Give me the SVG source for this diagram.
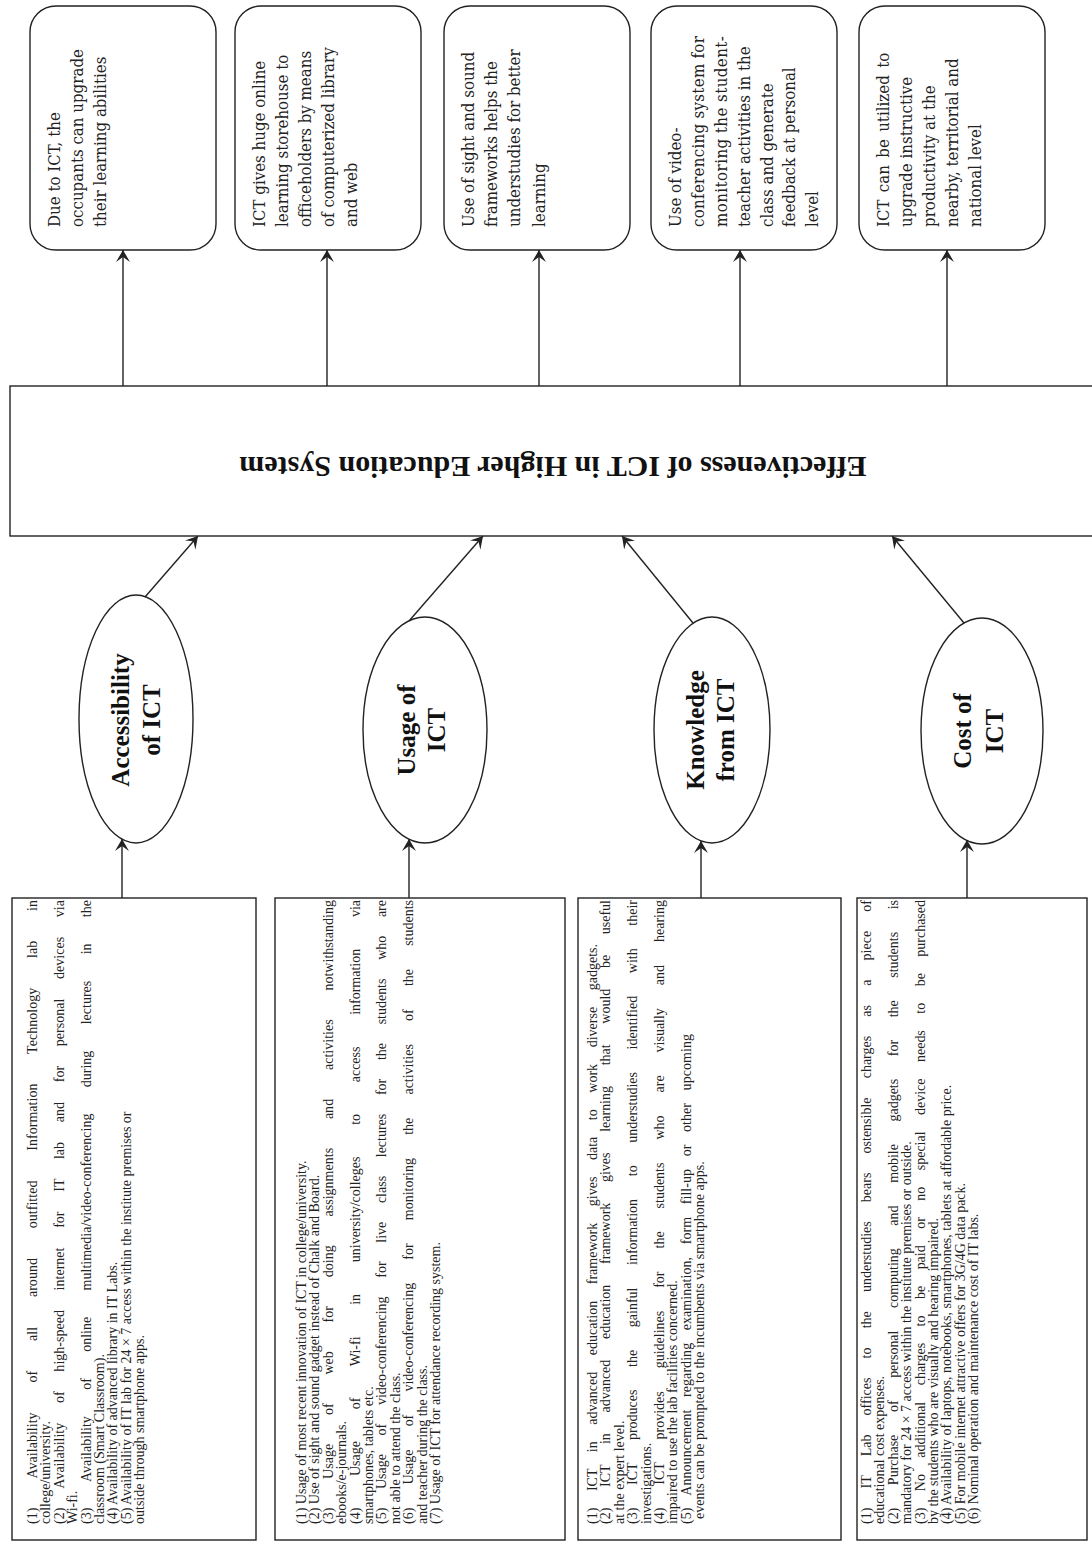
<svg xmlns="http://www.w3.org/2000/svg" width="1092" height="1546" viewBox="0 0 1092 1546">
<style>
.box{fill:#fff;stroke:#222;stroke-width:1.4}
.conn{stroke:#222;stroke-width:1.4;fill:none;marker-end:url(#arr)}
.bt{font-family:"Liberation Serif","Times New Roman",serif;font-size:14px;fill:#222}
.tt{font-family:"DejaVu Serif",serif;font-size:17.5px;fill:#222}
.el{font-family:"Liberation Serif","Times New Roman",serif;font-size:25px;font-weight:bold;fill:#111}
.ct{font-family:"Liberation Serif","Times New Roman",serif;font-size:30px;font-weight:bold;fill:#111}
</style>
<defs>
<marker id="arr" viewBox="0 0 12 14" refX="12" refY="7" markerWidth="12" markerHeight="14" markerUnits="userSpaceOnUse" orient="auto">
<path d="M0,0 L12,7 L0,14 L5,7 z" fill="#222"/>
</marker>
</defs>
<rect width="1092" height="1546" fill="#fff"/>

<!-- top outcome boxes -->
<g id="t1">
<rect class="box" x="30" y="6" width="186" height="244" rx="26"/>
<g class="tt" transform="translate(30,227) rotate(-90) scale(0.86,1)">
<text x="0" y="30.5">Due to ICT, the</text>
<text x="0" y="53.3">occupants can upgrade</text>
<text x="0" y="76.1">their learning abilities</text>
</g>
</g>
<g id="t2">
<rect class="box" x="235" y="6" width="186" height="244" rx="26"/>
<g class="tt" transform="translate(235,227) rotate(-90) scale(0.86,1)">
<text x="0" y="30.5">ICT gives huge online</text>
<text x="0" y="53.3">learning storehouse to</text>
<text x="0" y="76.1">officeholders by means</text>
<text x="0" y="98.9">of computerized library</text>
<text x="0" y="121.7">and web</text>
</g>
</g>
<g id="t3">
<rect class="box" x="444" y="6" width="186" height="244" rx="26"/>
<g class="tt" transform="translate(444,227) rotate(-90) scale(0.86,1)">
<text x="0" y="30.5">Use of sight and sound</text>
<text x="0" y="53.3">frameworks helps the</text>
<text x="0" y="76.1">understudies for better</text>
<text x="0" y="101">learning</text>
</g>
</g>
<g id="t4">
<rect class="box" x="651" y="6" width="186" height="244" rx="26"/>
<g class="tt" transform="translate(651,227) rotate(-90) scale(0.86,1)">
<text x="0" y="30.5">Use of video-</text>
<text x="0" y="53.3" textLength="222" lengthAdjust="spacing">conferencing system for</text>
<text x="0" y="76.1" textLength="222" lengthAdjust="spacing">monitoring the student-</text>
<text x="0" y="98.9">teacher activities in the</text>
<text x="0" y="121.7">class and generate</text>
<text x="0" y="144.5">feedback at personal</text>
<text x="0" y="167.3">level</text>
</g>
</g>
<g id="t5">
<rect class="box" x="859" y="6" width="186" height="244" rx="26"/>
<g class="tt" transform="translate(859,227) rotate(-90) scale(0.86,1)">
<text x="0" y="30.5" word-spacing="3">ICT can be utilized to</text>
<text x="0" y="53.3">upgrade instructive</text>
<text x="0" y="76.1">productivity at the</text>
<text x="0" y="98.9">nearby, territorial and</text>
<text x="0" y="121.7">national level</text>
</g>
</g>

<!-- central box -->
<g id="center">
<rect class="box" x="10" y="386" width="1100" height="150"/>
<text class="ct" transform="translate(553,467) rotate(180)" text-anchor="middle" dominant-baseline="central">Effectiveness of ICT in Higher Education System</text>
</g>

<!-- ellipses -->
<g id="e1">
<ellipse class="box" cx="136" cy="719" rx="57" ry="124"/>
<text class="el" transform="translate(136,720) rotate(-90)" text-anchor="middle" dominant-baseline="central"><tspan x="0" y="-16">Accessibility</tspan><tspan x="0" y="15">of ICT</tspan></text>
</g>
<g id="e2">
<ellipse class="box" cx="425" cy="730" rx="62" ry="113"/>
<text class="el" transform="translate(421,730) rotate(-90)" text-anchor="middle" dominant-baseline="central"><tspan x="0" y="-15">Usage of</tspan><tspan x="0" y="15">ICT</tspan></text>
</g>
<g id="e3">
<ellipse class="box" cx="712" cy="730" rx="58" ry="113"/>
<text class="el" transform="translate(710,730) rotate(-90)" text-anchor="middle" dominant-baseline="central"><tspan x="0" y="-15">Knowledge</tspan><tspan x="0" y="15">from ICT</tspan></text>
</g>
<g id="e4">
<ellipse class="box" cx="982" cy="731" rx="61" ry="113"/>
<text class="el" transform="translate(978,731) rotate(-90)" text-anchor="middle" dominant-baseline="central"><tspan x="0" y="-16">Cost of</tspan><tspan x="0" y="16">ICT</tspan></text>
</g>

<!-- bottom detail boxes -->
<g id="b1">
<rect class="box" x="12" y="898" width="244" height="642"/>
<g class="bt" transform="translate(12,1524) rotate(-90)">
<text x="0" y="25" word-spacing="26.3" textLength="624" lengthAdjust="spacing">(1) Availability of all around outfitted Information Technology lab in</text>
<text x="0" y="38.4">college/university.</text>
<text x="0" y="51.8" word-spacing="16.2" textLength="624" lengthAdjust="spacing">(2) Availability of high-speed internet for IT lab and for personal devices via</text>
<text x="0" y="65.2">Wi-fi.</text>
<text x="0" y="78.6" word-spacing="22.8" textLength="624" lengthAdjust="spacing">(3) Availability of online multimedia/video-conferencing during lectures in the</text>
<text x="0" y="92">classroom (Smart Classroom).</text>
<text x="0" y="105.4">(4) Availability of advanced library in IT Labs.</text>
<text x="0" y="118.8">(5) Availability of IT lab for 24 × 7 access within the institute premises or</text>
<text x="0" y="132.2">outside through smartphone apps.</text>
</g>
</g>
<g id="b2">
<rect class="box" x="275" y="898" width="290" height="642"/>
<g class="bt" transform="translate(275,1524) rotate(-90)">
<text x="0" y="31">(1) Usage of most recent innovation of ICT in college/university.</text>
<text x="0" y="44.4">(2) Use of sight and sound gadget instead of Chalk and Board.</text>
<text x="0" y="57.8" word-spacing="25.2" textLength="624" lengthAdjust="spacing">(3) Usage of web for doing assignments and activities notwithstanding</text>
<text x="0" y="71.2">ebooks/e-journals.</text>
<text x="0" y="84.6" word-spacing="28.2" textLength="624" lengthAdjust="spacing">(4) Usage of Wi-fi in university/colleges to access information via</text>
<text x="0" y="98">smartphones, tablets etc.</text>
<text x="0" y="111.4" word-spacing="15.2" textLength="624" lengthAdjust="spacing">(5) Usage of video-conferencing for live class lectures for the students who are</text>
<text x="0" y="124.8">not able to attend the class.</text>
<text x="0" y="138.2" word-spacing="19.7" textLength="624" lengthAdjust="spacing">(6) Usage of video-conferencing for monitoring the activities of the students</text>
<text x="0" y="151.6">and teacher during the class.</text>
<text x="0" y="165">(7) Usage of ICT for attendance recording system.</text>
</g>
</g>
<g id="b3">
<rect class="box" x="578" y="898" width="263" height="642"/>
<g class="bt" transform="translate(578,1524) rotate(-90)">
<text x="0" y="19" word-spacing="13.1" textLength="580" lengthAdjust="spacing">(1) ICT in advanced education framework gives data to work diverse gadgets.</text>
<text x="0" y="32.4" word-spacing="17.2" textLength="624" lengthAdjust="spacing">(2) ICT in advanced education framework gives learning that would be useful</text>
<text x="0" y="45.8">at the expert level.</text>
<text x="0" y="59.2" word-spacing="19.2" textLength="624" lengthAdjust="spacing">(3) ICT produces the gainful information to understudies identified with their</text>
<text x="0" y="72.6">investigations.</text>
<text x="0" y="86" word-spacing="19.5" textLength="624" lengthAdjust="spacing">(4) ICT provides guidelines for the students who are visually and hearing</text>
<text x="0" y="99.4">impaired to use the lab facilities concerned.</text>
<text x="0" y="112.8" word-spacing="9" textLength="490" lengthAdjust="spacing">(5) Announcement regarding examination, form fill-up or other upcoming</text>
<text x="5" y="126.2">events can be prompted to the incumbents via smartphone apps.</text>
</g>
</g>
<g id="b4">
<rect class="box" x="857" y="898" width="230" height="642"/>
<g class="bt" transform="translate(857,1524) rotate(-90)">
<text x="0" y="14" word-spacing="15.7" textLength="624" lengthAdjust="spacing">(1) IT Lab offices to the understudies bears ostensible charges as a piece of</text>
<text x="0" y="27.4">educational cost expenses.</text>
<text x="0" y="40.8" word-spacing="19.1" textLength="624" lengthAdjust="spacing">(2) Purchase of personal computing and mobile gadgets for the students is</text>
<text x="0" y="54.2">mandatory for 24 × 7 access within the institute premises or outside.</text>
<text x="0" y="67.6" word-spacing="13" textLength="624" lengthAdjust="spacing">(3) No additional charges to be paid or no special device needs to be purchased</text>
<text x="0" y="81">by the students who are visually and hearing impaired.</text>
<text x="0" y="94.4">(4) Availability of laptops, notebooks, smartphones, tablets at affordable price.</text>
<text x="0" y="107.8">(5) For mobile internet attractive offers for 3G/4G data pack.</text>
<text x="0" y="121.2">(6) Nominal operation and maintenance cost of IT labs.</text>
</g>
</g>

<!-- connectors -->
<g id="connectors">
<line class="conn" x1="123" y1="386" x2="123" y2="250"/>
<line class="conn" x1="327" y1="386" x2="327" y2="250"/>
<line class="conn" x1="539" y1="386" x2="539" y2="250"/>
<line class="conn" x1="740" y1="386" x2="740" y2="250"/>
<line class="conn" x1="947" y1="386" x2="947" y2="250"/>
<line class="conn" x1="145" y1="597" x2="198" y2="536"/>
<line class="conn" x1="409" y1="621" x2="483" y2="536"/>
<line class="conn" x1="693" y1="623" x2="622" y2="536"/>
<line class="conn" x1="964" y1="623" x2="892" y2="536"/>
<line class="conn" x1="122" y1="898" x2="122" y2="839"/>
<line class="conn" x1="409" y1="898" x2="409" y2="839"/>
<line class="conn" x1="701" y1="898" x2="701" y2="841"/>
<line class="conn" x1="967" y1="898" x2="967" y2="840"/>
</g>
</svg>
